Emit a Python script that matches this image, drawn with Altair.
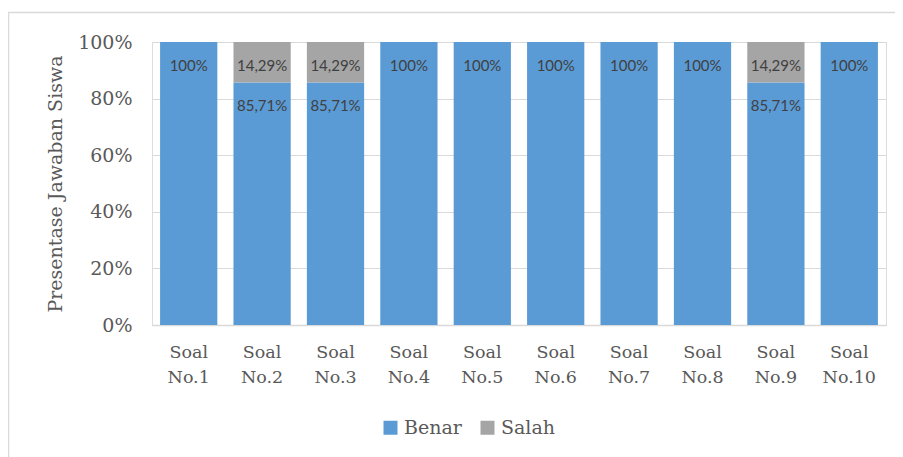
import altair as alt
import pandas as pd

categories = ["Soal No.1", "Soal No.2", "Soal No.3", "Soal No.4", "Soal No.5",
              "Soal No.6", "Soal No.7", "Soal No.8", "Soal No.9", "Soal No.10"]
benar = [100, 85.71, 85.71, 100, 100, 100, 100, 100, 85.71, 100]
salah = [0, 14.29, 14.29, 0, 0, 0, 0, 0, 14.29, 0]
series = ["Benar", "Salah"]
colors = ["#5B9BD5", "#A5A5A5"]

SERIF = "DejaVu Serif"


def fmt(v):
    if float(v).is_integer():
        return f"{int(v)}%"
    return f"{v:.2f}".replace(".", ",") + "%"


rows = []
for c, b, s in zip(categories, benar, salah):
    rows.append({"soal": c, "seri": "Benar", "nilai": b, "ord": 0, "top": b, "label": fmt(b)})
    rows.append({"soal": c, "seri": "Salah", "nilai": s, "ord": 1, "top": b + s,
                 "label": fmt(s) if s > 0 else ""})
df = pd.DataFrame(rows)

x_enc = alt.X("soal:N", sort=categories, title=None,
              scale=alt.Scale(paddingInner=0.22, paddingOuter=0.11),
              axis=alt.Axis(labelExpr="split(datum.label, ' ')", labelAngle=0,
                            labelFont=SERIF, labelFontSize=17.5,
                            labelColor="#595959", labelLineHeight=25,
                            labelPadding=18, ticks=False, domainColor="#d9d9d9",
                            domainWidth=1.5))

bars = alt.Chart(df).mark_bar().encode(
    x=x_enc,
    y=alt.Y("nilai:Q", stack="zero", title="Presentase Jawaban Siswa",
            scale=alt.Scale(domain=[0, 100]),
            axis=alt.Axis(values=[0, 20, 40, 60, 80, 100],
                          labelExpr="datum.value + '%'",
                          labelFont=SERIF, labelFontSize=19,
                          labelColor="#595959", labelPadding=20,
                          titleFont=SERIF, titleFontSize=19,
                          titleColor="#595959", titleFontWeight="normal",
                          titlePadding=12, ticks=False, domain=False,
                          gridColor="#d9d9d9", gridWidth=1.2)),
    color=alt.Color("seri:N", scale=alt.Scale(domain=series, range=colors),
                    legend=alt.Legend(title=None, orient="none", direction="horizontal",
                                      legendX=229, legendY=376,
                                      symbolType="square", symbolSize=196,
                                      symbolStrokeWidth=0,
                                      labelFont=SERIF, labelFontSize=19,
                                      labelColor="#595959", columnPadding=16,
                                      labelOffset=4)),
    order=alt.Order("ord:Q"),
)

labels = alt.Chart(df).transform_filter("datum.label != ''").mark_text(
    baseline="middle", dy=24, font="Lato", fontSize=15, color="#404040"
).encode(
    x=alt.X("soal:N", sort=categories),
    y=alt.Y("top:Q"),
    text="label:N",
)

border = alt.Chart(pd.DataFrame({"a": [0]})).mark_rect(
    fill=None, stroke="#d9d9d9", strokeWidth=1.5
).encode(x=alt.value(-143.5), x2=alt.value(800), y=alt.value(-29.5), y2=alt.value(500))

chart = alt.layer(border, bars, labels).properties(
    width=734, height=283,
    autosize=alt.AutoSizeParams(type="none"),
    padding={"left": 144, "top": 34, "right": 9, "bottom": 132},
).configure_view(stroke=None).configure(background="white")

chart.save("out.html", embed_options={"renderer": "svg", "actions": False})
